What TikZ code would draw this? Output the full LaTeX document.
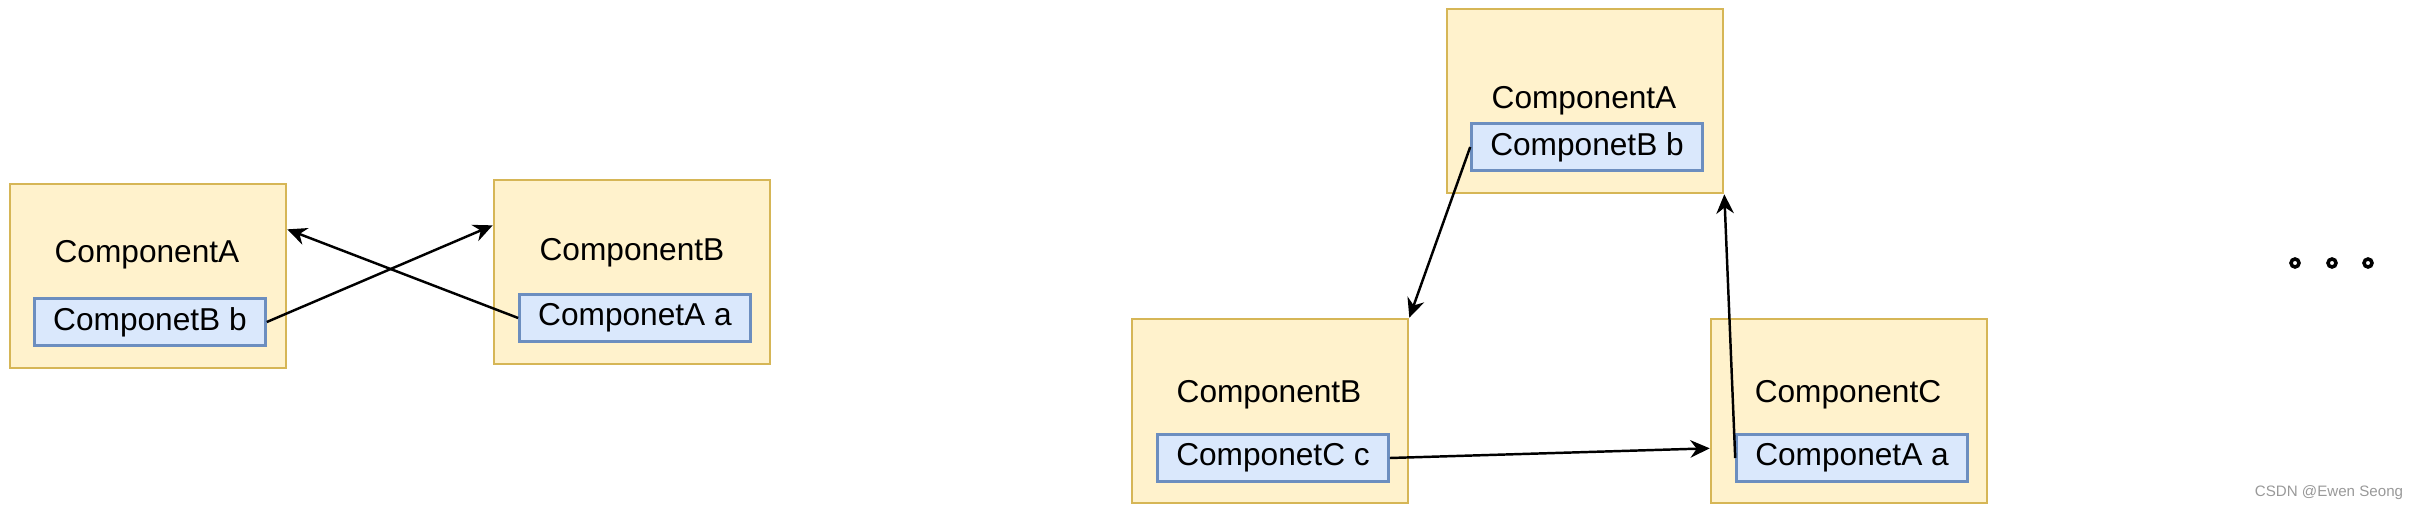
\documentclass[tikz,border=0pt]{standalone}
\usepackage{fontspec}
\setmainfont{Liberation Sans}
\usetikzlibrary{arrows.meta,calc}

\definecolor{compfill}{HTML}{FFF2CC}
\definecolor{compdraw}{HTML}{D6B656}
\definecolor{fieldfill}{HTML}{DAE8FC}
\definecolor{fielddraw}{HTML}{6C8EBF}

\begin{document}
\begin{tikzpicture}[x=0.01cm, y=-0.01cm,
	comp/.style={rectangle, fill=compfill, draw=compdraw, line width=0.7pt, minimum width=2.76cm, minimum height=1.84cm, inner sep=0pt},
	field/.style={rectangle, fill=fieldfill, draw=fielddraw, line width=0.7pt, minimum width=2.31cm, minimum height=0.47cm, inner sep=0pt, font=\fontsize{9}{11}\selectfont},
	title/.style={inner sep=0pt, font=\fontsize{9}{11}\selectfont},
	ref/.style={-{Stealth[length=5.5pt, width=5pt, inset=1.8pt]}, line width=0.7pt},
	dot/.style={circle, draw=black, line width=1pt, minimum size=0.08cm, inner sep=0pt}
	]
	\useasboundingbox (0,0) rectangle (2418,512);

	% two components
	\node (compA1) [comp] at (148,276) {};
	\node (titleA1) [title] at (147,255) {ComponentA};
	\node (fieldB1) [field] at (150,322) {ComponetB b};

	\node (compB1) [comp] at (632,272) {};
	\node (titleB1) [title] at (632,253) {ComponentB};
	\node (fieldA1) [field] at (635,318) {ComponetA a};

	\draw [ref] (fieldB1.east) -- ($(compB1.north west)!0.25!(compB1.south west)$);
	\draw [ref] (fieldA1.west) -- ($(compA1.north east)!0.25!(compA1.south east)$);

	% three components
	\node (compA2) [comp] at (1585,101) {};
	\node (titleA2) [title] at (1584,101) {ComponentA};
	\node (fieldB2) [field] at (1587,147) {ComponetB b};

	\node (compB2) [comp] at (1270,411) {};
	\node (titleB2) [title] at (1269,395) {ComponentB};
	\node (fieldC2) [field] at (1273,458) {ComponetC c};

	\node (compC2) [comp] at (1849,411) {};
	\node (titleC2) [title] at (1848,395) {ComponentC};
	\node (fieldA2) [field] at (1852,458) {ComponetA a};

	\draw [ref] (fieldB2.west) -- (compB2.north east);
	\draw [ref] (fieldC2.east) -- ($(compC2.north west)!0.70!(compC2.south west)$);
	\draw [ref] (fieldA2.west) -- (compA2.south east);

	% and so on
	\node (dot1) [dot] at (2295,263) {};
	\node (dot2) [dot] at (2332,263) {};
	\node (dot3) [dot] at (2368,263) {};

	\node (mark) [inner sep=0pt, text=gray!80, font=\fontsize{4.3}{5}\selectfont] at (2329,493) {CSDN @Ewen Seong};

\end{tikzpicture}
\end{document}
